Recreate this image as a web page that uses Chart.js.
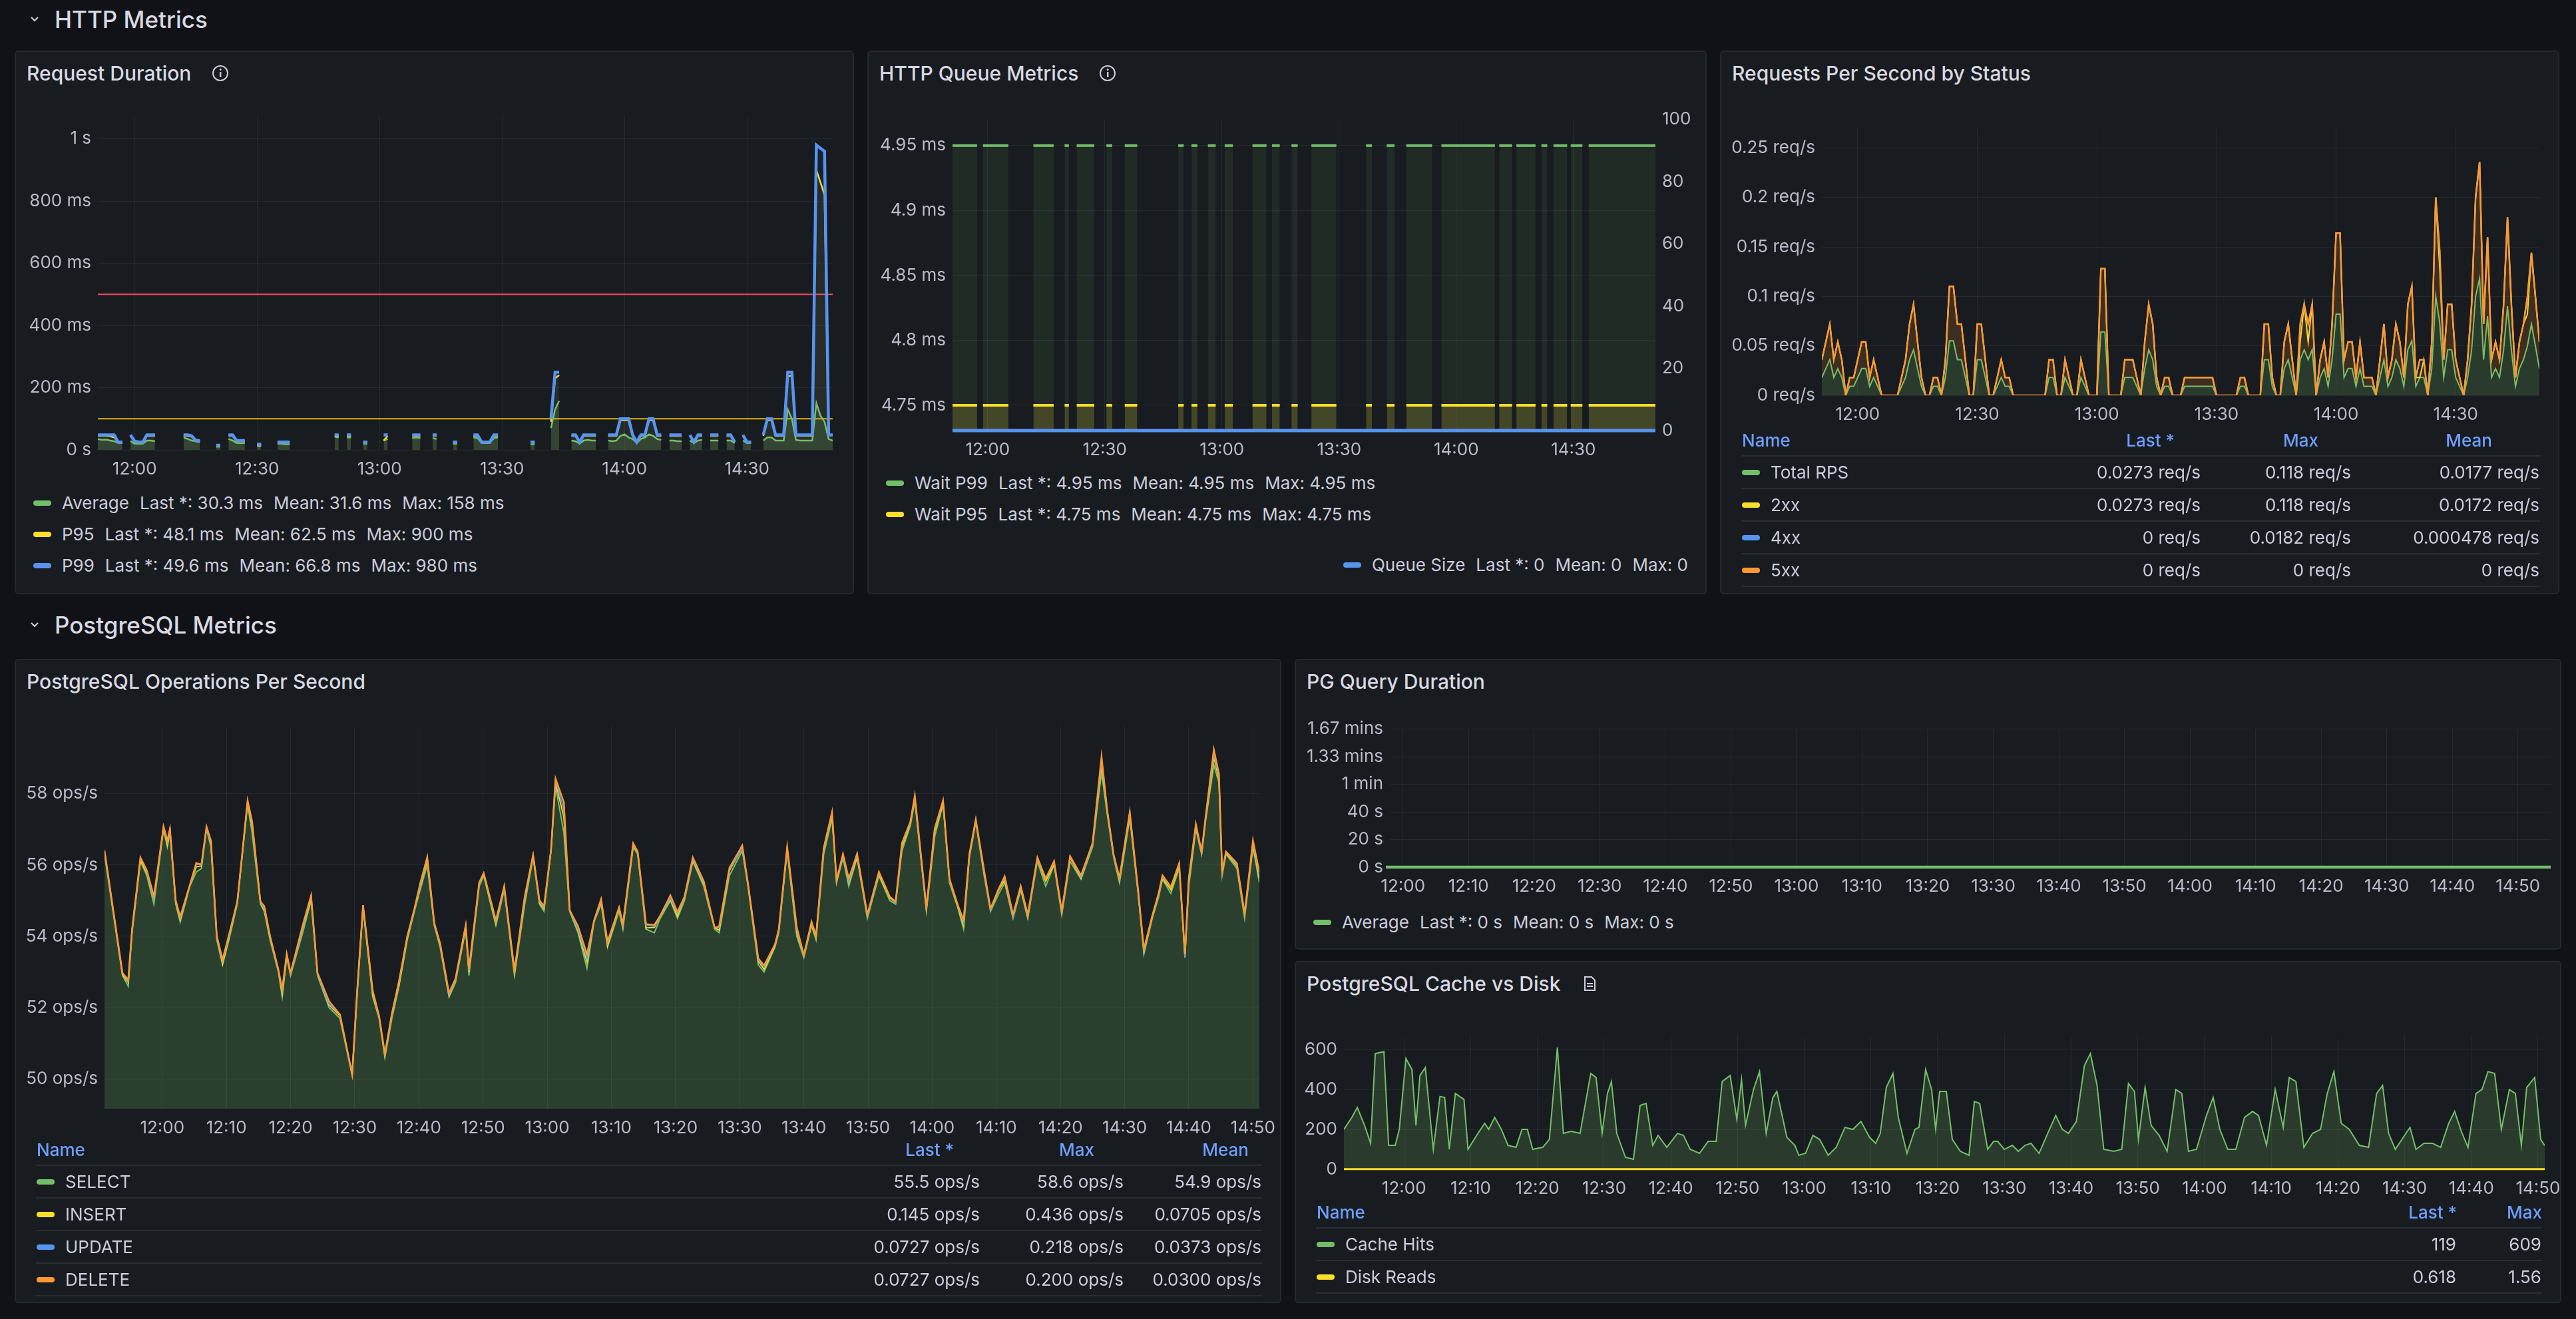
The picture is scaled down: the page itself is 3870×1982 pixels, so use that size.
<!DOCTYPE html>
<html>
<head>
<meta charset="utf-8">
<script src="https://cdn.jsdelivr.net/npm/chart.js@4.4.1/dist/chart.umd.min.js"></script>
<style>
  html, body { margin: 0; padding: 0; }
  body { width: 3870px; height: 1982px; background: #111217; font-family: Inter, "Noto Sans", sans-serif; color: #ccccdc; position: relative; overflow: hidden; }
  .row-title { position: absolute; left: 44px; font-size: 35px; font-weight: 500; color: #d8d9e3; display: flex; align-items: center; }
  .row-title svg { margin-right: 22px; }
  .panel { position: absolute; background: #181b1f; border: 2px solid #25282d; border-radius: 6px; box-sizing: border-box; }
  .ptitle { position: absolute; left: 16px; top: 14px; font-size: 30px; font-weight: 500; color: #d8d9e3; display: flex; align-items: center; }
  .ptitle svg { margin-left: 30px; }
  .cbox { position: absolute; }
  .legend { position: absolute; font-size: 26px; display: flex; align-items: center; white-space: pre; }
  .sw { width: 27px; height: 8px; border-radius: 4px; margin-right: 16px; display: inline-block; }
  .legend span.s { margin-left: 16px; }
  table.lt { position: absolute; border-collapse: collapse; font-size: 26px; }
  table.lt th { color: #6e9fff; font-weight: 500; height: 44px; text-align: right; border-bottom: 2px solid #2a2d33; }
  table.lt th:first-child { text-align: left; }
  table.lt td { height: 45px; text-align: right; border-bottom: 2px solid #2a2d33; white-space: nowrap; }
  table.lt td:first-child { text-align: left; }
  .nm { display: flex; align-items: center; }
</style>
</head>
<body>
<div class="row-title" style="top:8px"><svg width="16" height="16" viewBox="0 0 16 16"><path d="M3 5 L8 10 L13 5" stroke="#ccccdc" stroke-width="2.2" fill="none"/></svg>HTTP Metrics</div>
<div class="row-title" style="top:918px"><svg width="16" height="16" viewBox="0 0 16 16"><path d="M3 5 L8 10 L13 5" stroke="#ccccdc" stroke-width="2.2" fill="none"/></svg>PostgreSQL Metrics</div>

<div class="panel" id="p1" style="left:22px;top:76px;width:1261px;height:817px">
  <div class="ptitle">Request Duration<svg width="28" height="28" viewBox="0 0 28 28"><circle cx="14" cy="14" r="11" stroke="#ccccdc" stroke-width="2" fill="none"/><rect x="13" y="12" width="2.4" height="8" fill="#ccccdc"/><circle cx="14.2" cy="8.6" r="1.5" fill="#ccccdc"/></svg></div>
  <div class="cbox" style="left:0;top:70px;width:1257px;height:578px"><canvas id="c1"></canvas></div>
  <div class="legend" style="left:26px;top:662px"><i class="sw" style="background:#73bf69"></i>Average<span class="s">Last *: 30.3 ms</span><span class="s">Mean: 31.6 ms</span><span class="s">Max: 158 ms</span></div>
  <div class="legend" style="left:26px;top:709px"><i class="sw" style="background:#fade2a"></i>P95<span class="s">Last *: 48.1 ms</span><span class="s">Mean: 62.5 ms</span><span class="s">Max: 900 ms</span></div>
  <div class="legend" style="left:26px;top:756px"><i class="sw" style="background:#5794f2"></i>P99<span class="s">Last *: 49.6 ms</span><span class="s">Mean: 66.8 ms</span><span class="s">Max: 980 ms</span></div>
</div>

<div class="panel" id="p2" style="left:1303px;top:76px;width:1261px;height:817px">
  <div class="ptitle">HTTP Queue Metrics<svg width="28" height="28" viewBox="0 0 28 28"><circle cx="14" cy="14" r="11" stroke="#ccccdc" stroke-width="2" fill="none"/><rect x="13" y="12" width="2.4" height="8" fill="#ccccdc"/><circle cx="14.2" cy="8.6" r="1.5" fill="#ccccdc"/></svg></div>
  <div class="cbox" style="left:0;top:76px;width:1240px;height:543px"><canvas id="c2"></canvas></div>
  <div class="legend" style="left:26px;top:632px"><i class="sw" style="background:#73bf69"></i>Wait P99<span class="s">Last *: 4.95 ms</span><span class="s">Mean: 4.95 ms</span><span class="s">Max: 4.95 ms</span></div>
  <div class="legend" style="left:26px;top:679px"><i class="sw" style="background:#fade2a"></i>Wait P95<span class="s">Last *: 4.75 ms</span><span class="s">Mean: 4.75 ms</span><span class="s">Max: 4.75 ms</span></div>
  <div class="legend" style="right:26px;top:755px"><i class="sw" style="background:#5794f2"></i>Queue Size<span class="s">Last *: 0</span><span class="s">Mean: 0</span><span class="s">Max: 0</span></div>
</div>

<div class="panel" id="p3" style="left:2584px;top:76px;width:1261px;height:817px">
  <div class="ptitle">Requests Per Second by Status</div>
  <div class="cbox" style="left:0;top:89px;width:1257px;height:477px"><canvas id="c3"></canvas></div>
  <table class="lt" style="left:30px;top:560px;width:1200px">
    <tr><th>Name</th><th style="width:190px;padding-right:40px">Last *</th><th style="width:175px;padding-right:50px">Max</th><th style="width:210px;padding-right:72px">Mean</th></tr>
    <tr><td><span class="nm"><i class="sw" style="background:#73bf69"></i>Total RPS</span></td><td>0.0273 req/s</td><td>0.118 req/s</td><td>0.0177 req/s</td></tr>
    <tr><td><span class="nm"><i class="sw" style="background:#fade2a"></i>2xx</span></td><td>0.0273 req/s</td><td>0.118 req/s</td><td>0.0172 req/s</td></tr>
    <tr><td><span class="nm"><i class="sw" style="background:#5794f2"></i>4xx</span></td><td>0 req/s</td><td>0.0182 req/s</td><td>0.000478 req/s</td></tr>
    <tr><td><span class="nm"><i class="sw" style="background:#ff9830"></i>5xx</span></td><td>0 req/s</td><td>0 req/s</td><td>0 req/s</td></tr>
  </table>
</div>

<div class="panel" id="p4" style="left:22px;top:990px;width:1903px;height:968px">
  <div class="ptitle">PostgreSQL Operations Per Second</div>
  <div class="cbox" style="left:0;top:74px;width:1899px;height:650px"><canvas id="c4"></canvas></div>
  <table class="lt" style="left:30px;top:712px;width:1842px">
    <tr><th>Name</th><th style="width:180px;padding-right:40px">Last *</th><th style="width:170px;padding-right:45px">Max</th><th style="width:186px;padding-right:20px">Mean</th></tr>
    <tr><td><span class="nm"><i class="sw" style="background:#73bf69"></i>SELECT</span></td><td>55.5 ops/s</td><td>58.6 ops/s</td><td>54.9 ops/s</td></tr>
    <tr><td><span class="nm"><i class="sw" style="background:#fade2a"></i>INSERT</span></td><td>0.145 ops/s</td><td>0.436 ops/s</td><td>0.0705 ops/s</td></tr>
    <tr><td><span class="nm"><i class="sw" style="background:#5794f2"></i>UPDATE</span></td><td>0.0727 ops/s</td><td>0.218 ops/s</td><td>0.0373 ops/s</td></tr>
    <tr><td><span class="nm"><i class="sw" style="background:#ff9830"></i>DELETE</span></td><td>0.0727 ops/s</td><td>0.200 ops/s</td><td>0.0300 ops/s</td></tr>
  </table>
</div>

<div class="panel" id="p5" style="left:1945px;top:990px;width:1903px;height:437px">
  <div class="ptitle">PG Query Duration</div>
  <div class="cbox" style="left:0;top:78px;width:1899px;height:283px"><canvas id="c5"></canvas></div>
  <div class="legend" style="left:26px;top:378px"><i class="sw" style="background:#73bf69"></i>Average<span class="s">Last *: 0 s</span><span class="s">Mean: 0 s</span><span class="s">Max: 0 s</span></div>
</div>

<div class="panel" id="p6" style="left:1945px;top:1444px;width:1903px;height:514px">
  <div class="ptitle">PostgreSQL Cache vs Disk<svg width="28" height="28" viewBox="0 0 28 28"><path d="M7 4 H17 L22 9 V24 H7 Z" stroke="#ccccdc" stroke-width="2" fill="none"/><path d="M10 14 H19 M10 18 H19" stroke="#ccccdc" stroke-width="2"/></svg></div>
  <div class="cbox" style="left:0;top:84px;width:1899px;height:277px"><canvas id="c6"></canvas></div>
  <table class="lt" style="left:30px;top:352px;width:1842px">
    <tr><th>Name</th><th style="width:160px;padding-right:0">Last *</th><th style="width:127px;padding-right:0">Max</th></tr>
    <tr><td><span class="nm"><i class="sw" style="background:#73bf69"></i>Cache Hits</span></td><td>119</td><td>609</td></tr>
    <tr><td><span class="nm"><i class="sw" style="background:#fade2a"></i>Disk Reads</span></td><td>0.618</td><td>1.56</td></tr>
  </table>
</div>

<script>
// time axis: minutes after 11:51
const _ = null;
const minutes = Array.from({ length: 181 }, (v, i) => i);
const ticks30 = [9, 39, 69, 99, 129, 159];
const ticks10 = [9, 19, 29, 39, 49, 59, 69, 79, 89, 99, 109, 119, 129, 139, 149, 159, 169, 179];

// Request Duration (ms), 1-min
const reqAvg = [35,32,33,30,28,22,22,_,28,20,20,20,30,30,28,_,_,_,_,_,_,40,35,30,28,25,_,_,_,10,10,_,35,30,22,22,22,_,_,12,12,_,_,_,20,20,18,18,_,_,_,_,_,_,_,_,_,_,42,40,_,40,40,_,_,20,20,_,_,_,30,35,_,_,_,_,_,38,40,38,_,_,38,35,_,_,_,20,20,_,_,_,40,38,22,22,22,38,40,_,_,_,_,_,_,_,18,18,_,_,_,70,130,158,_,_,30,28,20,30,32,30,30,_,_,30,28,30,45,50,40,35,22,35,40,50,45,35,32,_,30,30,28,28,_,30,22,30,32,_,30,30,30,_,30,30,22,_,30,22,22,_,_,30,40,40,30,30,30,130,100,32,30,30,30,30,150,110,90,35,30];
const reqP95 = [45,45,45,44,40,24,24,_,45,26,24,24,45,45,45,_,_,_,_,_,_,45,45,42,28,28,_,_,_,13,13,_,45,45,28,28,28,_,_,16,16,_,_,_,24,24,24,24,_,_,_,_,_,_,_,_,_,_,45,45,_,45,45,_,_,24,24,_,_,_,30,45,_,_,_,_,_,45,45,45,_,_,45,45,_,_,_,24,24,_,_,_,45,45,24,24,24,45,45,_,_,_,_,_,_,_,24,24,_,_,_,90,230,240,_,_,45,45,24,45,45,45,45,_,_,45,45,45,95,95,95,45,24,45,45,95,95,45,45,_,45,45,45,45,_,45,24,45,45,_,45,45,45,_,45,45,24,_,45,24,24,_,_,45,95,95,45,45,45,235,240,45,45,45,45,45,900,860,820,47,48];
const reqP99 = [48,48,48,48,48,25,25,_,48,28,25,25,48,48,48,_,_,_,_,_,_,48,48,45,30,30,_,_,_,15,15,_,48,48,30,30,30,_,_,18,18,_,_,_,25,25,25,25,_,_,_,_,_,_,_,_,_,_,48,48,_,48,48,_,_,25,25,_,_,_,48,48,_,_,_,_,_,48,48,48,_,_,48,48,_,_,_,25,25,_,_,_,48,48,25,25,25,48,48,_,_,_,_,_,_,_,25,25,_,_,_,100,250,250,_,_,48,48,25,48,48,48,48,_,_,48,48,48,100,100,100,48,25,48,48,100,100,48,48,_,48,48,48,48,_,48,25,48,48,_,48,48,48,_,48,48,25,_,48,25,25,_,_,48,100,100,48,48,48,250,250,48,48,48,48,48,980,970,960,48,48];
const thresholdTime = [0, 180];
const thresholdRed = [500, 500];
const thresholdYellow = [100, 100];
const reqYTicks = [0, 200, 400, 600, 800, 1000];

// HTTP Queue Metrics: segments where data exists
const waitStart = [0,7.8,20.7,28.7,31.8,39.4,44.1,57.8,61.2,65.4,69.7,76.8,81.8,86.8,91.9,105.9,111.2,116.2,125.2,140,144.4,150.8,153.9,158.3,162.9];
const waitEnd   = [6.3,14.3,25.9,29.8,36.3,40.9,47.3,59.2,62.7,67.4,71.8,80.4,83.8,88.4,98.3,107.4,113.2,122.8,138.9,143.3,149.3,152.3,157.4,161.3,180];
const waitP99 = [4.95,4.95,4.95,4.95,4.95,4.95,4.95,4.95,4.95,4.95,4.95,4.95,4.95,4.95,4.95,4.95,4.95,4.95,4.95,4.95,4.95,4.95,4.95,4.95,4.95];
const waitP95 = [4.75,4.75,4.75,4.75,4.75,4.75,4.75,4.75,4.75,4.75,4.75,4.75,4.75,4.75,4.75,4.75,4.75,4.75,4.75,4.75,4.75,4.75,4.75,4.75,4.75];
const queueTime = [0, 180];
const queueSize = [0, 0];
const waitYTicks = [4.75, 4.8, 4.85, 4.9, 4.95];
const queueYTicks = [0, 20, 40, 60, 80, 100];

// Requests per second by status, 1-min
const rpsTotal = [.018,.027,.036,.018,.027,.018,0,.009,.009,.018,
  .027,.027,.009,.018,.009,0,0,0,0,0,
  .009,.018,.036,.046,.027,.009,0,0,.009,.009,
  0,.018,.055,.055,.036,.036,.018,0,0,.036,
  .036,.018,0,0,.009,.018,.009,.009,0,0,
  0,0,0,0,0,0,0,.018,.018,0,
  0,.018,.009,0,0,.018,.009,0,0,0,
  .064,.064,0,0,0,0,.018,.018,.018,.009,
  0,.027,.046,.036,.009,0,.009,.009,0,0,
  0,.009,.009,.009,.009,.009,.009,.009,.009,0,
  0,0,0,0,0,.009,.009,0,0,0,
  0,.036,.036,.009,0,0,.027,.036,.018,0,
  .036,.046,.036,.046,0,.018,.027,.009,.036,.082,
  .082,.018,.027,.027,.009,.027,.009,.009,.009,0,
  .018,.036,.009,.018,.036,.027,.009,.046,.055,.009,
  .018,.018,0,.027,.1,.073,.018,.046,.046,.018,
  .009,0,.018,.046,.1,.118,.036,.08,.018,.027,
  .018,.045,.09,.045,.009,.027,.036,.05,.072,.05,
  .027];
const rps2xx = [.018,.027,.036,.018,.027,.018,0,.009,.009,.018,
  .027,.027,.009,.018,.009,0,0,0,0,0,
  .009,.018,.036,.046,.027,.009,0,0,.009,.009,
  0,.018,.055,.055,.036,.036,.018,0,0,.036,
  .036,.018,0,0,.009,.018,.009,.009,0,0,
  0,0,0,0,0,0,0,.018,.018,0,
  0,.018,.009,0,0,.018,.009,0,0,0,
  .064,.064,0,0,0,0,.018,.018,.018,.009,
  0,.027,.046,.036,.009,0,.009,.009,0,0,
  0,.009,.009,.009,.009,.009,.009,.009,.009,0,
  0,0,0,0,0,.009,.009,0,0,0,
  0,.036,.036,.009,0,0,.027,.036,.018,0,
  .018,.046,.018,.046,0,.018,.027,.009,.036,.082,
  .082,.018,.027,.027,.009,.027,.009,.009,.009,0,
  .018,.036,.009,.018,.036,.027,.009,.046,.055,.009,
  0,.018,0,.027,.1,.055,.018,.046,.046,.018,
  .009,0,.018,.046,.1,.118,.036,.08,.018,.027,
  .018,.045,.09,.045,.009,.027,.036,.032,.072,.05,
  .027];
const rps4xx = [0,0,0,0,0,0,0,0,0,0, 0,0,0,0,0,0,0,0,0,0, 0,0,0,0,0,0,0,0,0,0, 0,0,0,0,0,0,0,0,0,0,
  0,0,0,0,0,0,0,0,0,0, 0,0,0,0,0,0,0,0,0,0, 0,0,0,0,0,0,0,0,0,0, 0,0,0,0,0,0,0,0,0,0,
  0,0,0,0,0,0,0,0,0,0, 0,0,0,0,0,0,0,0,0,0, 0,0,0,0,0,0,0,0,0,0, 0,0,0,0,0,0,0,0,0,0,
  .018,0,.018,0,0,0,0,0,0,0, 0,0,0,0,0,0,0,0,0,0, 0,0,0,0,0,0,0,0,0,0,
  .018,0,0,0,0,.018,0,0,0,0, 0,0,0,0,0,0,0,0,0,0, 0,0,0,0,0,0,0,.018,0,0, 0];
const rps5xx = [0,0,0,0,0,0,0,0,0,0, 0,0,0,0,0,0,0,0,0,0, 0,0,0,0,0,0,0,0,0,0, 0,0,0,0,0,0,0,0,0,0,
  0,0,0,0,0,0,0,0,0,0, 0,0,0,0,0,0,0,0,0,0, 0,0,0,0,0,0,0,0,0,0, 0,0,0,0,0,0,0,0,0,0,
  0,0,0,0,0,0,0,0,0,0, 0,0,0,0,0,0,0,0,0,0, 0,0,0,0,0,0,0,0,0,0, 0,0,0,0,0,0,0,0,0,0,
  0,0,0,0,0,0,0,0,0,0, 0,0,0,0,0,0,0,0,0,0, 0,0,0,0,0,0,0,0,0,0,
  0,0,0,0,0,0,0,0,0,0, 0,0,0,0,0,0,0,0,0,0, 0,0,0,0,0,0,0,0,0,0, 0];
const rpsYTicks = [0, 0.05, 0.1, 0.15, 0.2, 0.25];

// PostgreSQL operations per second (stacked), sample times in minutes
const opsTime = [0,2.8,3.7,4.3,5.6,6.6,7.7,9.2,9.8,10.2,
  11.1,11.8,13.3,14.3,15.1,15.9,16.6,17.5,18.4,19.4,
  20.7,22.3,23,24.3,24.9,25.8,27.1,27.7,28.4,29,
  30.9,32.2,33.2,35,36.7,38.6,39.4,40.3,41.8,42.8,
  43.7,44.8,45.9,47.2,48.3,49.2,50.3,51.4,52.3,53.7,
  54.7,56.3,56.8,58.4,59.1,61,62.3,63.9,65.5,66.8,
  67.8,68.5,69.6,70.3,71.6,72.5,73.8,75.2,76.3,77.4,
  78.4,80.2,80.8,82.4,83.1,84.4,85.7,86.6,88.2,89.3,
  90.4,91.7,93.4,95.1,95.8,97.4,99.4,100.3,101.9,102.8,
  104.5,105.1,106.4,107.9,109,110.2,110.9,112.1,113.4,114.1,
  115.1,116,117.3,118.9,120.7,122.4,123.3,124.3,125.6,126.3,
  128.1,129.4,130.7,131.7,133,133.9,134.8,135.8,137.1,138.1,
  139.4,140.3,141.6,142.8,143.9,145.4,146.7,148,149.2,150.5,
  152.2,154,155.4,156.3,157.3,158.2,159.8,161.1,162,163.3,
  164.3,164.9,166.2,167.5,168.4,169,170.1,171,171.6,172.9,
  173.7,174.2,174.8,176.5,177.7,179,180];
const opsSelect = [56.3,52.9,52.6,54.1,56.1,55.7,54.9,57.0,56.5,56.9,
  54.9,54.4,55.4,55.8,55.9,57.0,56.5,53.9,53.2,53.9,
  54.9,57.7,56.9,54.9,54.7,53.9,53.0,52.3,53.4,52.9,
  54.1,55.0,52.9,52.0,51.7,50.1,52.4,54.8,52.3,51.7,
  50.6,51.7,52.6,53.9,54.7,55.3,56.0,54.3,53.7,52.3,
  52.7,54.2,52.9,55.4,55.7,54.3,55.3,52.9,54.9,56.2,
  54.9,54.7,56.4,58.2,56.9,54.7,54.1,53.1,54.4,54.9,
  53.7,54.7,54.2,56.5,56.3,54.2,54.1,54.5,55.0,54.5,
  55.0,56.1,55.4,54.2,54.1,55.7,56.4,55.4,53.2,53.0,
  53.7,54.1,56.4,54.0,53.4,54.3,53.9,56.3,57.3,55.5,
  56.2,55.4,56.2,54.5,55.7,55.0,54.9,56.4,57.1,57.8,
  54.7,56.8,57.7,55.5,54.8,54.2,56.2,57.2,55.7,54.7,
  55.2,55.5,54.5,55.3,54.5,56.1,55.4,56.0,54.6,56.1,
  55.6,56.5,58.6,57.4,56.2,55.5,57.3,55.2,53.5,54.5,
  55.1,55.6,55.2,55.9,53.4,55.4,57.0,56.3,57.2,58.8,
  58.3,55.7,56.3,55.9,54.5,56.5,55.5];
const opsInsert = [.073,.036,.109,.073,.036,.073,.145,.036,.073,.109,
  .036,.073,.036,.145,.073,.036,.073,.109,.036,.073,
  .073,.036,.218,.073,.036,.073,.036,.109,.073,.036,
  .145,.073,.036,.073,.073,.036,.109,.036,.073,.036,
  .073,.109,.036,.073,.036,.073,.145,.036,.073,.036,
  .073,.036,.109,.073,.036,.073,.036,.073,.145,.073,
  .036,.073,.036,.109,.436,.036,.073,.182,.036,.073,
  .036,.109,.073,.036,.073,.036,.145,.073,.036,.073,
  .109,.036,.073,.036,.073,.145,.073,.036,.109,.073,
  .036,.073,.036,.109,.073,.036,.073,.145,.073,.036,
  .073,.109,.036,.073,.036,.073,.036,.109,.073,.036,
  .073,.145,.036,.073,.036,.109,.073,.036,.073,.036,
  .109,.073,.036,.073,.036,.073,.145,.036,.073,.109,
  .036,.073,.218,.073,.036,.073,.109,.036,.073,.036,
  .073,.036,.109,.073,.036,.145,.073,.036,.073,.218,
  .109,.073,.036,.073,.109,.073,.145];
const opsUpdate = [0,.036,.036,0,.073,.036,0,.036,.073,0,
  .036,.036,0,.073,.036,0,.036,0,.073,.036,
  0,.036,.073,0,.036,.036,0,.073,.036,0,
  .036,.073,0,.036,.036,0,0,.036,.073,0,
  .036,0,.073,.036,0,.036,.073,0,.036,.036,
  0,.073,.036,0,.036,.036,0,.073,.036,0,
  .036,.036,0,.073,.218,0,.036,.109,0,.036,
  .073,0,.036,.036,0,.073,.036,0,.036,.073,
  0,.036,.036,0,.073,.036,0,.036,.036,.073,
  .036,0,.036,.073,0,.036,.036,0,.073,.036,
  0,.036,.073,0,.036,.036,0,.073,.036,.036,
  0,.073,.036,0,.036,.073,0,.036,.036,0,
  .036,.073,0,.036,.036,0,.073,.036,0,.036,
  .036,0,.109,.036,0,.036,.073,0,.036,.036,
  0,.036,.073,.036,0,.073,.036,0,.036,.109,
  .073,0,.036,.036,0,.073,.073];
const opsDelete = [.036,0,.036,.036,0,.036,.073,0,.036,0,
  .036,.036,0,.036,0,.036,.073,0,.036,.036,
  0,.036,.036,0,.073,0,.036,.036,0,.036,
  .036,0,.036,.073,0,0,.036,0,.036,.036,
  0,.036,.036,0,.036,.073,0,.036,0,.036,
  .036,0,.036,.036,0,.036,.073,0,.036,0,
  .036,.036,0,.036,.2,0,.073,.109,0,.036,
  .036,0,.036,.036,0,.036,.036,0,.073,.036,
  0,.036,.036,0,.036,.036,.073,0,.036,.036,
  0,.036,.036,.073,0,.036,0,.036,.036,0,
  .036,.073,0,.036,.036,0,.036,.036,0,.073,
  .036,0,.036,.036,0,.073,.036,0,.036,.036,
  0,.036,.073,0,.036,.036,0,.036,.036,0,
  .036,.036,.109,0,.036,.036,0,.073,.036,0,
  .036,.036,0,.036,.073,0,.036,.036,0,.109,
  .073,.036,0,.036,.036,.036,.073];
const opsYTicks = [50, 52, 54, 56, 58];

// PG query duration (s)
const pgDurTime = [0, 184];
const pgDurAvg = [0, 0];
const pgDurYTicks = [0, 20, 40, 60, 80, 100];
const pgDurYLabels = ['0 s', '20 s', '40 s', '1 min', '1.33 mins', '1.67 mins'];

// Cache vs disk
const cacheTime = [0,1.2,2,3.1,4,4.7,6,6.7,7.7,8.3,9.3,10.2,10.8,11.4,12.2,13.4,14.4,15.1,15.8,16.7,18,18.6,19.9,21.1,21.7,22.6,23.6,24.6,25.8,26.7,27.5,28.3,29.8,30.8,32,32.9,34.1,35.4,37,37.8,38.7,39.5,40.1,40.9,42.2,43.4,44.4,45.3,46.3,47.1,48.4,50,50.9,51.9,53.3,54.6,55.8,56.7,57.9,58.9,59.6,60.2,61.4,62.3,63.3,64.3,64.9,66.4,67.6,68.2,69.2,70.3,71.3,72.6,73.8,75.1,76.3,77.5,78.8,79.7,80.4,81.3,82.3,83.1,84.4,85.6,86.2,87.2,88.1,88.7,89.3,90.3,91.2,92.4,93.7,94.5,95.3,96.5,97.4,98,99,100.2,101.1,102.1,103,104.2,105.5,106.7,107.7,108.6,109.8,111,111.9,112.9,113.9,115.4,116.6,117.6,118.5,119.1,120.1,121,122.2,123.4,124.7,125.6,126.6,127.8,129.3,130.3,131.3,132.5,133.7,135,136.2,137.1,138.3,139.6,140.8,141.7,142.7,143.9,145.2,146.4,147.4,148.4,149.5,150.7,152.2,153.6,154.8,155.7,156.6,157.6,158.6,159.8,160.7,161.9,163.2,164.4,165.6,166.5,167.5,168.5,169.7,170.6,171.5,172.5,173.5,174.7,175.6,176.5,177.3,178.5,179.4,180];
const cacheHits = [200,260,310,220,130,580,590,120,120,200,555,500,220,470,510,100,365,360,100,380,350,100,170,230,200,260,200,120,110,200,200,100,110,150,610,180,190,180,480,460,180,380,440,180,60,50,320,330,120,170,110,180,170,100,80,140,140,440,470,250,450,220,400,490,180,360,390,160,120,70,80,170,150,70,110,210,200,240,160,130,180,410,480,260,80,200,210,500,400,200,390,390,150,90,70,340,330,100,140,140,100,120,90,120,130,80,180,270,200,180,240,520,580,420,100,90,100,430,390,150,410,220,170,90,400,380,90,100,270,360,200,100,100,260,290,270,120,400,210,460,440,110,180,200,380,490,230,200,120,110,380,420,180,100,150,210,100,130,130,110,230,290,190,110,380,400,490,480,200,400,380,120,410,460,150,119];
const diskTime = [0, 60, 120, 180];
const diskReads = [0.6, 0.7, 0.5, 0.618];
const cacheYTicks = [0, 100, 200, 300, 400, 500, 600];

const GREEN = '#73bf69', YELLOW = '#fade2a', BLUE = '#5794f2', ORANGE = '#ff9830', RED = '#f2495c';
const TEXT = 'rgba(204,204,220,0.9)';
const GRID = 'rgba(204,204,220,0.08)';
const FONT = { family: 'Inter', size: 26 };

function pts(xs, ys) { return xs.map((x, i) => ({ x: x, y: ys[i] })); }
function segPts(starts, ends, vals) {
    const out = [];
    starts.forEach((s, i) => {
        out.push({ x: s, y: vals[i] }, { x: ends[i], y: vals[i] }, { x: ends[i] + 0.01, y: null });
    });
    return out;
}
function hhmm(m) {
    const t = 11 * 60 + 51 + m;
    return Math.floor(t / 60) + ':' + String(t % 60).padStart(2, '0');
}
function fixTicks(values) { return scale => { scale.ticks = values.map(v => ({ value: v })); }; }

function xAxis(tickVals, min, max) {
    return {
        type: 'linear', min: min === undefined ? 0 : min, max: max === undefined ? 180 : max,
        afterBuildTicks: fixTicks(tickVals),
        // fixed height, and no extra side padding for the edge labels
        afterFit: s => { s.height = 50; s.paddingLeft = 0; s.paddingRight = 0; },
        grid: { color: GRID, drawTicks: false },
        border: { display: false },
        ticks: { color: TEXT, font: FONT, padding: 14, maxRotation: 0, autoSkip: false, callback: v => hhmm(v) }
    };
}
function yAxis(min, max, tickVals, width, fmt, pos) {
    return {
        type: 'linear', min: min, max: max, position: pos || 'left',
        afterBuildTicks: fixTicks(tickVals),
        afterFit: s => { s.width = width; },
        grid: { color: GRID, drawTicks: false, display: pos !== 'right' },
        border: { display: false },
        ticks: { color: TEXT, font: FONT, padding: 10, callback: fmt }
    };
}
function line(data, color, extra) {
    return Object.assign({ data: data, borderColor: color, borderWidth: 2.5, pointRadius: 0, fill: false, tension: 0, spanGaps: false }, extra || {});
}
function alpha(hex, a) {
    const n = parseInt(hex.slice(1), 16);
    return `rgba(${n >> 16},${(n >> 8) & 255},${n & 255},${a})`;
}

// Grafana paints later series over earlier ones; Chart.js does the reverse,
// so draw datasets first-to-last ourselves (stacking is left untouched)
const drawInOrder = {
    id: 'drawInOrder',
    beforeDatasetsDraw(chart) {
        const metas = chart.getSortedVisibleDatasetMetas();
        for (let i = 0; i < metas.length; i++) chart._drawDataset(metas[i]);
        return false;
    }
};

function makeChart(id, datasets, scales, pad, padRight) {
    return new Chart(document.getElementById(id), {
        type: 'line',
        data: { datasets: datasets },
        options: {
            animation: false, responsive: true, maintainAspectRatio: false, devicePixelRatio: 1,
            layout: { padding: { top: pad, left: 0, right: padRight || 0, bottom: 0 } },
            plugins: { legend: { display: false }, tooltip: { enabled: false } },
            scales: scales
        },
        plugins: [drawInOrder]
    });
}

Chart.defaults.font.family = 'Inter';

// Request Duration
makeChart('c1', [
    line(pts(thresholdTime, thresholdRed), RED, { borderWidth: 2 }),
    line(pts(thresholdTime, thresholdYellow), '#e0b400', { borderWidth: 2 }),
    line(pts(minutes, reqAvg), GREEN, { fill: 'origin', backgroundColor: alpha(GREEN, 0.18) }),
    line(pts(minutes, reqP95), YELLOW, { fill: 'origin', backgroundColor: alpha(YELLOW, 0.06) }),
    line(pts(minutes, reqP99), BLUE, { borderWidth: 4.5, fill: 'origin', backgroundColor: alpha(BLUE, 0.05) })
], {
    x: xAxis(ticks30),
    y: yAxis(0, 1075, reqYTicks, 123, v => v === 0 ? '0 s' : v >= 1000 ? (v / 1000) + ' s' : v + ' ms')
}, 19, 30);

// HTTP Queue Metrics
makeChart('c2', [
    line(segPts(waitStart, waitEnd, waitP99), GREEN, { borderWidth: 4, fill: 'start', backgroundColor: alpha(GREEN, 0.1) }),
    line(segPts(waitStart, waitEnd, waitP95), YELLOW, { borderWidth: 4, fill: 'start', backgroundColor: alpha(YELLOW, 0.16) }),
    line(pts(queueTime, queueSize), BLUE, { borderWidth: 5, yAxisID: 'y2', clip: 6 })
], {
    x: xAxis(ticks30),
    y: yAxis(4.7305, 4.97, waitYTicks, 126, v => v + ' ms'),
    y2: yAxis(0, 100, queueYTicks, 58, v => v, 'right')
}, 20);

// Requests Per Second by Status (stacked)
makeChart('c3', [
    line(pts(minutes, rpsTotal), GREEN, { fill: 'origin', backgroundColor: alpha(GREEN, 0.2), borderWidth: 2 }),
    line(pts(minutes, rps2xx), YELLOW, { fill: '-1', backgroundColor: alpha(ORANGE, 0.16), borderWidth: 2 }),
    line(pts(minutes, rps4xx), BLUE, { fill: '-1', backgroundColor: alpha(BLUE, 0.1), borderWidth: 2 }),
    line(pts(minutes, rps5xx), ORANGE, { fill: '-1', backgroundColor: alpha(ORANGE, 0.1), borderWidth: 2.5 })
], {
    x: xAxis(ticks30),
    y: Object.assign(yAxis(0, 0.27, rpsYTicks, 151, v => v + ' req/s'), { stacked: true })
}, 20, 28);

// PostgreSQL Operations Per Second (stacked)
makeChart('c4', [
    line(pts(opsTime, opsSelect), GREEN, { fill: 'start', backgroundColor: alpha(GREEN, 0.22), borderWidth: 2 }),
    line(pts(opsTime, opsInsert), YELLOW, { fill: '-1', backgroundColor: alpha(YELLOW, 0.1), borderWidth: 2 }),
    line(pts(opsTime, opsUpdate), BLUE, { fill: '-1', backgroundColor: alpha(BLUE, 0.1), borderWidth: 2 }),
    line(pts(opsTime, opsDelete), ORANGE, { fill: '-1', backgroundColor: alpha(ORANGE, 0.1), borderWidth: 2.5 })
], {
    x: xAxis(ticks10),
    y: Object.assign(yAxis(49.17, 59.88, opsYTicks, 133, v => v + ' ops/s'), { stacked: true })
}, 20, 31);

// PG Query Duration
makeChart('c5', [
    line(pts(pgDurTime, pgDurAvg), GREEN, { borderWidth: 4.5, clip: 6 })
], {
    x: xAxis(ticks10, 7, 184),
    y: yAxis(0, 100, pgDurYTicks, 141, (v, i) => pgDurYLabels[i])
}, 16, 14);

// PostgreSQL Cache vs Disk
makeChart('c6', [
    line(pts(cacheTime, cacheHits), GREEN, { fill: 'origin', backgroundColor: alpha(GREEN, 0.2), borderWidth: 2 }),
    line(pts(diskTime, diskReads), YELLOW, { borderWidth: 3, clip: 6 })
], {
    x: xAxis(ticks10),
    y: yAxis(0, 672, cacheYTicks, 72, v => v)
}, 20, 23);
</script>
</body>
</html>
